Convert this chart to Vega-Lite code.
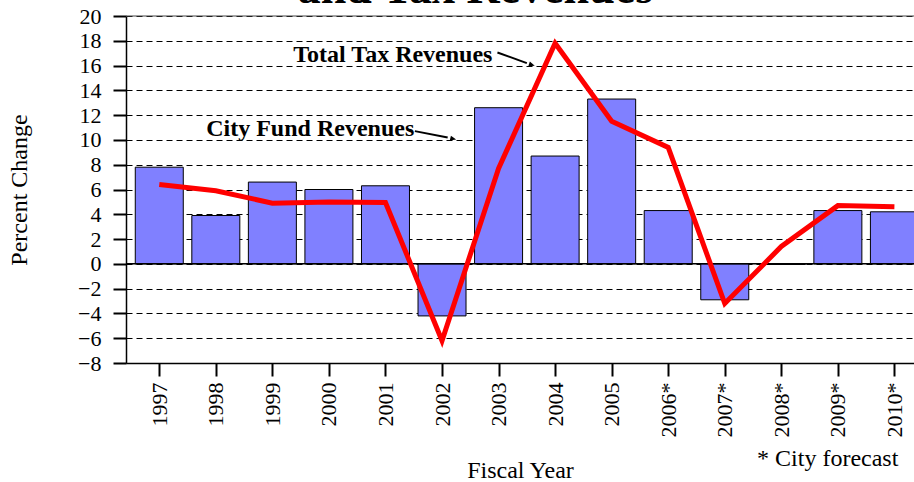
{
  "$schema": "https://vega.github.io/schema/vega-lite/v6.json",
  "width": 788,
  "height": 347,
  "autosize": {"type": "none"},
  "padding": {"left": 126, "top": 16, "right": 0, "bottom": 119},
  "background": "white",
  "config": {
    "view": {"stroke": null},
    "font": "Liberation Serif",
    "text": {"fill": "black", "font": "Liberation Serif"},
    "axis": {"labelFont": "Liberation Serif", "titleFont": "Liberation Serif", "labelColor": "black", "titleColor": "black", "titleFontWeight": "normal", "domainColor": "black", "tickColor": "black", "tickSize": 13, "tickWidth": 2, "domainWidth": 1.5, "labelFontSize": 22, "titleFontSize": 24, "labelOverlap": false},
    "axisX": {"grid": false, "labelAngle": -90, "labelPadding": 6, "titlePadding": 21},
    "axisY": {"grid": true, "gridColor": "black", "gridDash": [6, 4], "gridWidth": 1, "labelPadding": 12, "titlePadding": 46}
  },
  "datasets": {
    "revenues": [
      {"year": 1997, "fund": 7.8, "tax": 6.4},
      {"year": 1998, "fund": 3.9, "tax": 5.9},
      {"year": 1999, "fund": 6.6, "tax": 4.9},
      {"year": 2000, "fund": 6.0, "tax": 5.0},
      {"year": 2001, "fund": 6.3, "tax": 4.95},
      {"year": 2002, "fund": -4.2, "tax": -6.2},
      {"year": 2003, "fund": 12.6, "tax": 7.7},
      {"year": 2004, "fund": 8.7, "tax": 17.8},
      {"year": 2005, "fund": 13.3, "tax": 11.5},
      {"year": 2006, "fund": 4.3, "tax": 9.4},
      {"year": 2007, "fund": -2.9, "tax": -3.2},
      {"year": 2008, "fund": -0.05, "tax": 1.4},
      {"year": 2009, "fund": 4.3, "tax": 4.7},
      {"year": 2010, "fund": 4.2, "tax": 4.6}
    ],
    "one": [{"n": 1}]
  },
  "layer": [
    {
      "data": {"name": "revenues"},
      "mark": {"type": "bar", "width": 48, "fill": "#8080ff", "stroke": "black", "strokeWidth": 1},
      "encoding": {
        "x": {
          "field": "year", "type": "quantitative",
          "scale": {"domain": [1996.5, 2010.258], "nice": false, "zero": false},
          "axis": {"title": "Fiscal Year", "values": [1997, 1998, 1999, 2000, 2001, 2002, 2003, 2004, 2005, 2006, 2007, 2008, 2009, 2010], "format": "d", "labelExpr": "datum.value >= 2006 ? datum.label + '*' : datum.label"}
        },
        "y": {
          "field": "fund", "type": "quantitative",
          "scale": {"domain": [-8, 20], "nice": false},
          "axis": {"title": "Percent Change", "values": [-8, -6, -4, -2, 0, 2, 4, 6, 8, 10, 12, 14, 16, 18, 20]}
        }
      }
    },
    {
      "data": {"name": "one"},
      "mark": {"type": "rule", "color": "#444", "strokeWidth": 1},
      "encoding": {"y": {"datum": 20, "axis": {"title": "Percent Change", "values": [-8, -6, -4, -2, 0, 2, 4, 6, 8, 10, 12, 14, 16, 18, 20]}}}
    },
    {
      "data": {"name": "one"},
      "mark": {"type": "rule", "color": "black", "strokeWidth": 1.5},
      "encoding": {"y": {"datum": 0, "axis": {"title": "Percent Change", "values": [-8, -6, -4, -2, 0, 2, 4, 6, 8, 10, 12, 14, 16, 18, 20]}}}
    },
    {
      "data": {"name": "revenues"},
      "mark": {"type": "line", "color": "#ff0000", "strokeWidth": 5, "strokeJoin": "miter", "strokeCap": "butt"},
      "encoding": {
        "x": {"field": "year", "type": "quantitative", "axis": {"title": "Fiscal Year", "values": [1997, 1998, 1999, 2000, 2001, 2002, 2003, 2004, 2005, 2006, 2007, 2008, 2009, 2010], "format": "d", "labelExpr": "datum.value >= 2006 ? datum.label + '*' : datum.label"}},
        "y": {"field": "tax", "type": "quantitative", "axis": {"title": "Percent Change", "values": [-8, -6, -4, -2, 0, 2, 4, 6, 8, 10, 12, 14, 16, 18, 20]}}
      }
    },
    {
      "data": {"name": "one"},
      "mark": {"type": "text", "text": "Total Tax Revenues", "fontSize": 24, "fontWeight": "bold", "align": "left", "baseline": "alphabetic", "fill": "black"},
      "encoding": {
        "x": {"datum": 1999.37, "axis": {"title": "Fiscal Year", "values": [1997, 1998, 1999, 2000, 2001, 2002, 2003, 2004, 2005, 2006, 2007, 2008, 2009, 2010], "format": "d", "labelExpr": "datum.value >= 2006 ? datum.label + '*' : datum.label"}},
        "y": {"datum": 16.28, "axis": {"title": "Percent Change", "values": [-8, -6, -4, -2, 0, 2, 4, 6, 8, 10, 12, 14, 16, 18, 20]}}
      }
    },
    {
      "data": {"name": "one"},
      "mark": {"type": "text", "text": "City Fund Revenues", "fontSize": 24, "fontWeight": "bold", "align": "left", "baseline": "alphabetic", "fill": "black"},
      "encoding": {
        "x": {"datum": 1997.83, "axis": {"title": "Fiscal Year", "values": [1997, 1998, 1999, 2000, 2001, 2002, 2003, 2004, 2005, 2006, 2007, 2008, 2009, 2010], "format": "d", "labelExpr": "datum.value >= 2006 ? datum.label + '*' : datum.label"}},
        "y": {"datum": 10.28, "axis": {"title": "Percent Change", "values": [-8, -6, -4, -2, 0, 2, 4, 6, 8, 10, 12, 14, 16, 18, 20]}}
      }
    },
    {
      "data": {"name": "one"},
      "mark": {"type": "rule", "color": "black", "strokeWidth": 2},
      "encoding": {
        "x": {"datum": 2002.98, "axis": {"title": "Fiscal Year", "values": [1997, 1998, 1999, 2000, 2001, 2002, 2003, 2004, 2005, 2006, 2007, 2008, 2009, 2010], "format": "d", "labelExpr": "datum.value >= 2006 ? datum.label + '*' : datum.label"}},
        "y": {"datum": 17.06, "axis": {"title": "Percent Change", "values": [-8, -6, -4, -2, 0, 2, 4, 6, 8, 10, 12, 14, 16, 18, 20]}},
        "x2": {"datum": 2003.5}, "y2": {"datum": 16.2}
      }
    },
    {
      "data": {"name": "one"},
      "mark": {"type": "point", "shape": "M0,0L-1,-0.4L-1,0.4Z", "size": 144, "filled": true, "color": "black", "opacity": 1, "angle": 19},
      "encoding": {
        "x": {"datum": 2003.64, "axis": {"title": "Fiscal Year", "values": [1997, 1998, 1999, 2000, 2001, 2002, 2003, 2004, 2005, 2006, 2007, 2008, 2009, 2010], "format": "d", "labelExpr": "datum.value >= 2006 ? datum.label + '*' : datum.label"}},
        "y": {"datum": 15.98, "axis": {"title": "Percent Change", "values": [-8, -6, -4, -2, 0, 2, 4, 6, 8, 10, 12, 14, 16, 18, 20]}}
      }
    },
    {
      "data": {"name": "one"},
      "mark": {"type": "rule", "color": "black", "strokeWidth": 2},
      "encoding": {
        "x": {"datum": 2001.52, "axis": {"title": "Fiscal Year", "values": [1997, 1998, 1999, 2000, 2001, 2002, 2003, 2004, 2005, 2006, 2007, 2008, 2009, 2010], "format": "d", "labelExpr": "datum.value >= 2006 ? datum.label + '*' : datum.label"}},
        "y": {"datum": 10.71, "axis": {"title": "Percent Change", "values": [-8, -6, -4, -2, 0, 2, 4, 6, 8, 10, 12, 14, 16, 18, 20]}},
        "x2": {"datum": 2002.1}, "y2": {"datum": 10.2}
      }
    },
    {
      "data": {"name": "one"},
      "mark": {"type": "point", "shape": "M0,0L-1,-0.4L-1,0.4Z", "size": 144, "filled": true, "color": "black", "opacity": 1, "angle": 14},
      "encoding": {
        "x": {"datum": 2002.25, "axis": {"title": "Fiscal Year", "values": [1997, 1998, 1999, 2000, 2001, 2002, 2003, 2004, 2005, 2006, 2007, 2008, 2009, 2010], "format": "d", "labelExpr": "datum.value >= 2006 ? datum.label + '*' : datum.label"}},
        "y": {"datum": 10.03, "axis": {"title": "Percent Change", "values": [-8, -6, -4, -2, 0, 2, 4, 6, 8, 10, 12, 14, 16, 18, 20]}}
      }
    },
    {
      "data": {"name": "one"},
      "mark": {"type": "text", "text": "and Tax Revenues", "fontSize": 46, "fontWeight": "bold", "align": "center", "baseline": "alphabetic", "fill": "black"},
      "encoding": {
        "x": {"datum": 2002.59, "axis": {"title": "Fiscal Year", "values": [1997, 1998, 1999, 2000, 2001, 2002, 2003, 2004, 2005, 2006, 2007, 2008, 2009, 2010], "format": "d", "labelExpr": "datum.value >= 2006 ? datum.label + '*' : datum.label"}},
        "y": {"datum": 21.06, "axis": {"title": "Percent Change", "values": [-8, -6, -4, -2, 0, 2, 4, 6, 8, 10, 12, 14, 16, 18, 20]}}
      }
    },
    {
      "data": {"name": "one"},
      "mark": {"type": "text", "text": "* City forecast", "fontSize": 24, "fontWeight": "normal", "align": "right", "baseline": "alphabetic", "fill": "black"},
      "encoding": {
        "x": {"datum": 2010.07, "axis": {"title": "Fiscal Year", "values": [1997, 1998, 1999, 2000, 2001, 2002, 2003, 2004, 2005, 2006, 2007, 2008, 2009, 2010], "format": "d", "labelExpr": "datum.value >= 2006 ? datum.label + '*' : datum.label"}},
        "y": {"datum": -16.33, "axis": {"title": "Percent Change", "values": [-8, -6, -4, -2, 0, 2, 4, 6, 8, 10, 12, 14, 16, 18, 20]}}
      }
    }
  ]
}
